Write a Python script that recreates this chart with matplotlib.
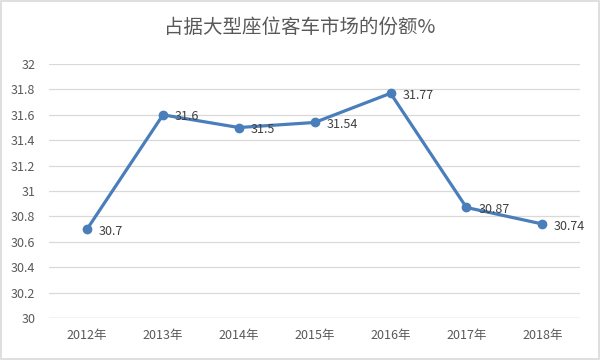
import matplotlib
matplotlib.use("Agg")
import matplotlib.pyplot as plt
from matplotlib.patches import Rectangle

plt.rcParams['font.family'] = ['Noto Sans CJK SC', 'DejaVu Sans']

categories = ['2012年', '2013年', '2014年', '2015年', '2016年', '2017年', '2018年']
values = [30.7, 31.6, 31.5, 31.54, 31.77, 30.87, 30.74]
labels = ['30.7', '31.6', '31.5', '31.54', '31.77', '30.87', '30.74']
yticks = [30, 30.2, 30.4, 30.6, 30.8, 31, 31.2, 31.4, 31.6, 31.8, 32]
ytick_labels = ['30', '30.2', '30.4', '30.6', '30.8', '31', '31.2', '31.4', '31.6', '31.8', '32']
title = '占据大型座位客车市场的份额%'

line_color = '#4A7EBB'
text_color = '#595959'

fig = plt.figure(figsize=(6, 3.6), dpi=100)
ax = fig.add_axes([0.082, 0.117, 0.885, 0.705])

x = list(range(len(categories)))
ax.plot(x, values, color=line_color, linewidth=2.3, marker='o', markersize=6,
        markerfacecolor=line_color, markeredgecolor=line_color, zorder=3, clip_on=False)
for xi, v, lab in zip(x, values, labels):
    ax.annotate(lab, (xi, v), xytext=(8.5, -1.5), textcoords='offset points',
                ha='left', va='center', fontsize=9, color='#404040', zorder=4)

ax.set_xlim(-0.5, len(categories) - 0.5)
ax.set_ylim(30, 32)
ax.set_yticks(yticks)
ax.set_yticklabels(ytick_labels)
ax.set_xticks(x)
ax.set_xticklabels(categories)
ax.tick_params(axis='both', length=0, labelsize=9, colors=text_color)
ax.tick_params(axis='y', pad=10)
ax.tick_params(axis='x', pad=8)
ax.grid(axis='y', color='#D9D9D9', linewidth=0.9)
ax.set_axisbelow(True)
for s in ax.spines.values():
    s.set_visible(False)
ax.axhline(30, color='#D9D9D9', linewidth=1.0, zorder=1)

fig.text(0.5, 0.925, title, ha='center', va='center', fontsize=14, color=text_color)
fig.patches.append(Rectangle((0.002, 0.003), 0.996, 0.994, transform=fig.transFigure,
                             fill=False, edgecolor='#D9D9D9', linewidth=1.2))

fig.savefig('out.png', dpi=100)
